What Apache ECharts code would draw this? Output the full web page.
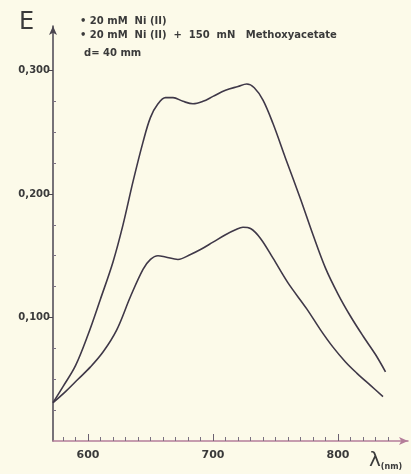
<!DOCTYPE html>
<html>
<head>
<meta charset="utf-8">
<script src="https://cdn.jsdelivr.net/npm/echarts@6/dist/echarts.min.js"></script>
<style>
  html, body { margin: 0; padding: 0; background: #fcfae9; }
  #chart { width: 411px; height: 474px; }
</style>
</head>
<body>
<div id="chart"></div>
<script>
    // wavelength (nm) / extinction
    var waveNi = [572, 580, 590, 600, 610, 620, 628, 636, 644, 650, 656, 662, 668, 676, 684, 692, 700, 710, 720, 727, 733, 740, 748, 758, 770, 780, 790, 800, 810, 820, 830, 838];
    var extNi = [0.031, 0.044, 0.061, 0.086, 0.115, 0.145, 0.175, 0.210, 0.242, 0.262, 0.273, 0.278, 0.278, 0.275, 0.273, 0.275, 0.279, 0.284, 0.287, 0.289, 0.286, 0.276, 0.257, 0.229, 0.196, 0.167, 0.140, 0.119, 0.101, 0.085, 0.070, 0.056];

    var waveMix = [572, 582, 592, 602, 612, 623, 634, 644, 650, 656, 662, 672, 682, 690, 700, 710, 718, 724, 730, 738, 748, 760, 775, 786, 796, 806, 815, 826, 836];
    var extMix = [0.031, 0.040, 0.050, 0.060, 0.072, 0.090, 0.117, 0.139, 0.147, 0.150, 0.149, 0.147, 0.151, 0.155, 0.161, 0.167, 0.171, 0.173, 0.172, 0.164, 0.148, 0.128, 0.107, 0.090, 0.076, 0.064, 0.055, 0.045, 0.036];

    var xLabels = [600, 700, 800];
    var xMinor = [580, 590, 610, 620, 630, 640, 650, 660, 670, 680, 690, 710, 720, 730, 740, 750, 760, 770, 780, 790, 810, 820, 830, 840];
    var yLabels = [0.1, 0.2, 0.3];
    var yMinor = [0.025, 0.05, 0.075, 0.125, 0.15, 0.175, 0.225, 0.25, 0.275];

    var ink = '#3f3848';
    var font = 'DejaVu Sans';

    function pairs(xs, ys) {
        var out = [];
        for (var i = 0; i < xs.length; i++) {
            out.push([xs[i], ys[i]]);
        }
        return out;
    }

    var chart = echarts.init(document.getElementById('chart'));

    var lineStyle = { color: ink, width: 1.6 };

    chart.setOption({
        backgroundColor: '#fcfae9',
        animation: false,
        grid: { left: 53, top: 26, width: 355, height: 415 },
        xAxis: [{
            type: 'value', min: 572, max: 856,
            axisLine: { lineStyle: { color: '#b47d9a', width: 1.5 }, symbol: ['none', 'arrow'], symbolSize: [6, 9] },
            axisTick: { show: true, inside: true, length: 7, customValues: xLabels, lineStyle: { color: '#6a6070' } },
            axisLabel: { customValues: xLabels, color: '#3a3a3a', fontFamily: font, fontWeight: 'bold', fontSize: 11, margin: 9 },
            splitLine: { show: false }
        }, {
            type: 'value', min: 572, max: 856, position: 'bottom',
            axisLine: { show: false },
            axisTick: { show: true, inside: true, length: 4, customValues: xMinor, lineStyle: { color: '#7a7080' } },
            axisLabel: { show: false },
            splitLine: { show: false }
        }],
        yAxis: [{
            type: 'value', min: 0, max: 0.336,
            axisLine: { lineStyle: { color: '#4a4550', width: 1.5 }, symbol: ['none', 'arrow'], symbolSize: [6, 9] },
            axisTick: { show: true, length: 4, customValues: yLabels, lineStyle: { color: '#4a4550' } },
            axisLabel: {
                customValues: yLabels, color: '#3a3a3a', fontFamily: font, fontWeight: 'bold', fontSize: 10, margin: 3,
                formatter: function (v) { return v.toFixed(3).replace('.', ','); }
            },
            splitLine: { show: false }
        }, {
            type: 'value', min: 0, max: 0.336, position: 'left',
            axisLine: { show: false },
            axisTick: { show: true, inside: true, length: 3, customValues: yMinor, lineStyle: { color: '#7a7080' } },
            axisLabel: { show: false },
            splitLine: { show: false }
        }],
        series: [{
            name: '20 mM Ni (II)',
            type: 'line', smooth: 0.35, symbol: 'none',
            lineStyle: lineStyle,
            data: pairs(waveNi, extNi)
        }, {
            name: '20 mM Ni (II) + 150 mN Methoxyacetate',
            type: 'line', smooth: 0.35, symbol: 'none',
            lineStyle: lineStyle,
            data: pairs(waveMix, extMix)
        }],
        graphic: [
            { type: 'text', left: 19, top: 11, style: { text: 'E', font: '24px ' + font, fill: '#3a3a3a' } },
            { type: 'text', left: 80, top: 16, style: { text: '• 20 mM  Ni (II)', font: 'bold 10px ' + font, fill: '#3a3a3a' } },
            { type: 'text', left: 80, top: 30, style: { text: '• 20 mM  Ni (II)  +  150  mN   Methoxyacetate', font: 'bold 10px ' + font, fill: '#3a3a3a' } },
            { type: 'text', left: 84, top: 48, style: { text: 'd= 40 mm', font: 'bold 10px ' + font, fill: '#3a3a3a' } },
            {
                type: 'text', left: 369, top: 451,
                style: {
                    text: '{a|λ}{b|(nm)}',
                    rich: {
                        a: { font: '20px ' + font, fill: '#3a3a3a' },
                        b: { font: 'bold 8px ' + font, fill: '#3a3a3a', verticalAlign: 'bottom' }
                    }
                }
            }
        ]
    });
</script>
</body>
</html>
